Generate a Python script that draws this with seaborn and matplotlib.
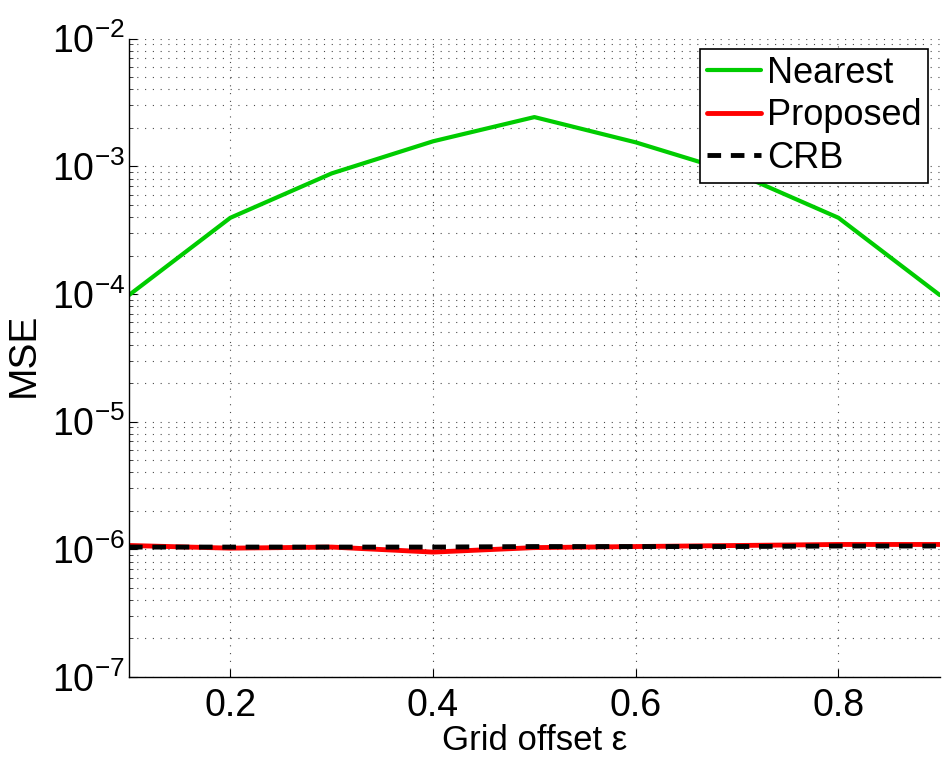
import numpy as np
import pandas as pd
import matplotlib
matplotlib.use("Agg")
import matplotlib.pyplot as plt
import seaborn as sns
from matplotlib.ticker import LogLocator, FixedLocator, NullFormatter

# Grid offsets and mean squared errors for each estimator
offset = [0.1, 0.2, 0.3, 0.4, 0.5, 0.6, 0.7, 0.8, 0.9]
mse_nearest = [9.8e-5, 3.95e-4, 8.8e-4, 1.57e-3, 2.43e-3, 1.54e-3, 8.8e-4, 3.95e-4, 9.8e-5]
mse_proposed = [1.07e-6, 1.02e-6, 1.04e-6, 0.95e-6, 1.03e-6, 1.05e-6, 1.07e-6, 1.09e-6, 1.09e-6]
mse_crb = [1.04e-6, 1.04e-6, 1.04e-6, 1.04e-6, 1.05e-6, 1.05e-6, 1.05e-6, 1.06e-6, 1.06e-6]
x_ticks = [0.2, 0.4, 0.6, 0.8]
x_tick_labels = ["0.2", "0.4", "0.6", "0.8"]

sns.set_style("white")
plt.rcParams["font.family"] = ["Liberation Sans", "DejaVu Sans"]
plt.rcParams["mathtext.fontset"] = "custom"
plt.rcParams["mathtext.rm"] = "Liberation Sans"
plt.rcParams["mathtext.it"] = "Liberation Sans:italic"
plt.rcParams["mathtext.bf"] = "Liberation Sans:bold"
plt.rcParams["text.color"] = "black"
plt.rcParams["axes.labelcolor"] = "black"

df = pd.DataFrame({
    "offset": offset * 3,
    "mse": mse_nearest + mse_proposed + mse_crb,
    "method": ["Nearest"] * 9 + ["Proposed"] * 9 + ["CRB"] * 9,
})

fig = plt.figure(figsize=(9.45, 7.58), dpi=100)
ax = fig.add_axes([0.1365, 0.107, 0.858, 0.842])

palette = {"Nearest": "#00cc00", "Proposed": "#ff0000", "CRB": "#000000"}
sns.lineplot(data=df[df.method == "Nearest"], x="offset", y="mse", color=palette["Nearest"],
             lw=3, ax=ax, label="Nearest")
sns.lineplot(data=df[df.method == "Proposed"], x="offset", y="mse", color=palette["Proposed"],
             lw=3.5, ax=ax, label="Proposed")
sns.lineplot(data=df[df.method == "CRB"], x="offset", y="mse", color=palette["CRB"],
             lw=3.5, ax=ax, label="CRB", linestyle=(0, (2.8, 2.0)))

ax.set_yscale("log")
ax.set_xlim(0.1, 0.9)
ax.set_ylim(1e-7, 1e-2)
ax.yaxis.set_major_locator(LogLocator(base=10, numticks=10))
ax.yaxis.set_minor_locator(LogLocator(base=10, subs=np.arange(2, 10), numticks=20))
ax.yaxis.set_minor_formatter(NullFormatter())
ax.xaxis.set_major_locator(FixedLocator(x_ticks))
ax.set_xticklabels(x_tick_labels)

grid_style = dict(color="black", linestyle=(0, (1, 6)), lw=0.8, alpha=0.7)
ax.grid(True, which="major", axis="both", **grid_style)
ax.grid(True, which="minor", axis="y", **grid_style)

for side in ["top", "right"]:
    ax.spines[side].set_visible(False)
for side in ["left", "bottom"]:
    ax.spines[side].set_color("black")
    ax.spines[side].set_linewidth(1.0)

ax.tick_params(axis="both", which="major", direction="in", length=6, width=0.8,
               labelsize=27, colors="black")
ax.tick_params(axis="x", which="major", pad=8, bottom=True)
ax.tick_params(axis="y", which="major", pad=3, left=True)
ax.tick_params(axis="y", which="minor", direction="in", length=3, width=0.6, left=True)

ax.set_xlabel("Grid offset ε", fontsize=25, labelpad=0, color="black")
ax.set_ylabel("MSE", fontsize=28, color="black")
ax.yaxis.set_label_coords(-0.108, 0.505)

leg = ax.legend(loc="upper right", bbox_to_anchor=(0.986, 0.984), fontsize=26,
                frameon=True, fancybox=False, edgecolor="black", framealpha=1,
                handlelength=1.5, handletextpad=0.15, borderpad=0.2, labelspacing=0.2,
                borderaxespad=0)
leg.get_frame().set_linewidth(1.2)
for txt in leg.get_texts():
    txt.set_color("black")

fig.savefig("out.png", dpi=100, facecolor="white")
